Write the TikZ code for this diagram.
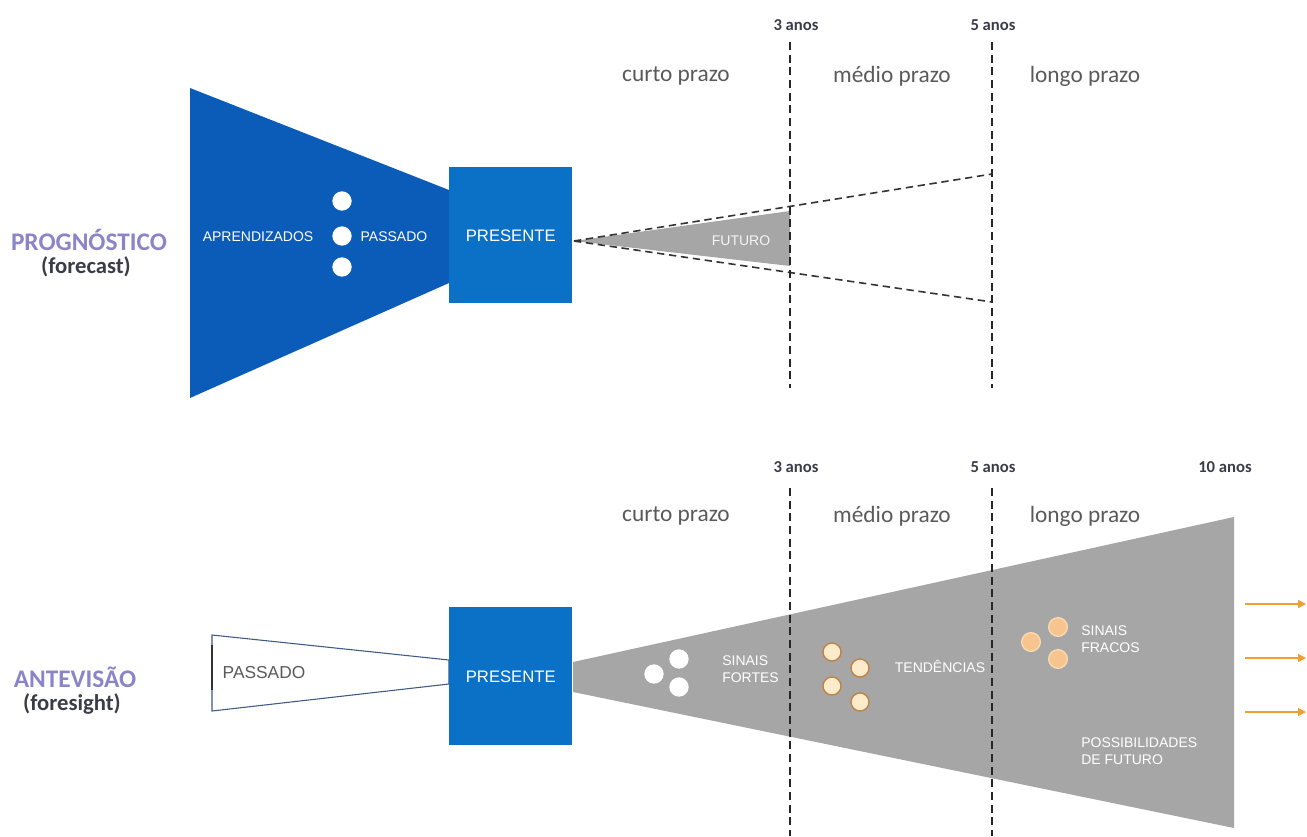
\documentclass[tikz,border=0pt]{standalone}
\usepackage{fontspec}
\setmainfont{Carlito}
\newfontfamily\arialf{Liberation Sans}
\usetikzlibrary{arrows.meta}
\definecolor{dblue}{HTML}{0A5CB8}
\definecolor{bblue}{HTML}{0B71C6}
\definecolor{gfill}{HTML}{A6A6A6}
\definecolor{purp}{HTML}{8C84C8}
\definecolor{dtext}{HTML}{3C3C48}
\definecolor{ltext}{HTML}{5A5A5A}
\definecolor{orng}{HTML}{F0A030}
\definecolor{cream}{HTML}{FDEBCB}
\definecolor{brn}{HTML}{C08040}
\definecolor{peach}{HTML}{F6C48C}
\definecolor{outl}{HTML}{3E5A80}
\begin{document}
\begin{tikzpicture}[x=0.75pt,y=-0.75pt,
  boxlbl/.style={font=\arialf\fontsize{12.5}{14}\selectfont, text=white},
  smlbl/.style={font=\arialf\fontsize{10.5}{12.5}\selectfont, text=white, align=left, inner sep=0pt},
  yearlbl/.style={font=\bfseries\fontsize{12.5}{14}\selectfont, text=dtext},
  termlbl/.style={font=\fontsize{17.5}{20}\selectfont, text=ltext},
  titlelbl/.style={font=\bfseries\fontsize{19}{22}\selectfont, text=purp},
  sublbl/.style={font=\bfseries\fontsize{17}{20}\selectfont, text=dtext},
  presbox/.style={fill=bblue, minimum width=92.25pt, inner sep=0pt},
  wdot/.style={circle, fill=white, minimum size=14.5pt, inner sep=0pt},
  tdot/.style={circle, fill=cream, draw=brn, line width=1pt, minimum size=13.5pt, inner sep=0pt},
  fdot/.style={circle, fill=peach, draw=cream!60!peach, line width=1pt, minimum size=14pt, inner sep=0pt},
  vdash/.style={dash pattern=on 6pt off 3.5pt, line width=1.2pt, black!85},
  cdash/.style={dash pattern=on 5.5pt off 3.5pt, line width=1.2pt, black!80},
  oarrow/.style={draw=orng, line width=1.2pt, -{Triangle[length=6pt,width=6pt]}}
]
\useasboundingbox (0,0) rectangle (1307,836);

% ---------------- TOP: PROGNOSTICO ----------------
\node[titlelbl] (tprog) at (89,240) {PROGNÓSTICO};
\node[sublbl] (tfore) at (86,267) {(forecast)};

\fill[dblue] (190,88) -- (449,190) -- (449,283) -- (190,398) -- cycle;
\node[presbox, minimum height=102pt, anchor=north west] (tpres) at (449,167) {};
\node[boxlbl] (tprestxt) at (tpres.center) {PRESENTE};

\node[wdot] (td1) at (342,201) {};
\node[wdot] (td2) at (342,236) {};
\node[wdot] (td3) at (342,267) {};
\node[smlbl] (tapr) at (258,237) {APRENDIZADOS};
\node[smlbl] (tpas) at (394,237) {PASSADO};

% vertical dashed timelines (top)
\coordinate (t3a) at (790,42);
\coordinate (t3b) at (790,388);
\coordinate (t5a) at (992,42);
\coordinate (t5b) at (992,388);

% future cone (top)
\coordinate (tapex) at (574,241);
\coordinate (tfu1) at (790,211);
\coordinate (tfu2) at (790,266);
\coordinate (tcu) at (992,174);
\coordinate (tcd) at (992,302);
\fill[gfill] (tapex) -- (tfu1) -- (tfu2) -- cycle;
\node[smlbl, text=white!92!gray] (tfut) at (741,241) {FUTURO};
\draw[cdash] (tapex) -- (tcu);
\draw[cdash] (tapex) -- (tcd);
\draw[vdash] (t3a) -- (t3b);
\draw[vdash] (t5a) -- (t5b);

\node[yearlbl] (ty3) at (796,25) {3 anos};
\node[yearlbl] (ty5) at (993,25) {5 anos};
\node[termlbl] (tcurto) at (676,76) {curto prazo};
\node[termlbl] (tmedio) at (892,76) {médio prazo};
\node[termlbl] (tlongo) at (1085,76) {longo prazo};

% ---------------- BOTTOM: ANTEVISAO ----------------
\node[titlelbl] (bant) at (75,677) {ANTEVISÃO};
\node[sublbl] (bfore) at (72,704) {(foresight)};

% past cone
\draw[outl, line width=0.8pt, fill=white] (212,635) -- (449,660) -- (449,684) -- (212,711) -- cycle;
\coordinate (bpl1) at (212,645);
\coordinate (bpl2) at (212,690);
\draw[black!80, line width=1.2pt] (bpl1) -- (bpl2);
\node[font=\arialf\fontsize{13}{15}\selectfont, text=ltext] (bpas) at (264,673) {PASSADO};

% future cone
\fill[gfill] (573,662) -- (1234,517) -- (1234,828) -- (573,692) -- cycle;

\node[presbox, minimum height=103.5pt, anchor=north west] (bpres) at (449,607) {};
\node[boxlbl] (bprestxt) at (bpres.center) {PRESENTE};

% dashed timelines (bottom)
\coordinate (b3a) at (790,488);
\coordinate (b3b) at (790,836);
\coordinate (b5a) at (992,488);
\coordinate (b5b) at (992,836);
\draw[vdash] (b3a) -- (b3b);
\draw[vdash] (b5a) -- (b5b);

\node[yearlbl] (by3) at (796,467) {3 anos};
\node[yearlbl] (by5) at (993,467) {5 anos};
\node[yearlbl] (by10) at (1225,467) {10 anos};
\node[termlbl] (bcurto) at (676,516) {curto prazo};
\node[termlbl] (bmedio) at (892,516) {médio prazo};
\node[termlbl] (blongo) at (1085,516) {longo prazo};

% strong signals
\node[wdot] (bs1) at (654,674) {};
\node[wdot] (bs2) at (679,659) {};
\node[wdot] (bs3) at (679,687) {};
\node[smlbl, anchor=west] (bsig) at (722,669) {SINAIS\\FORTES};

% trends
\node[tdot] (bt1) at (832,652) {};
\node[tdot] (bt2) at (860,668) {};
\node[tdot] (bt3) at (832,686) {};
\node[tdot] (bt4) at (860,702) {};
\node[smlbl] (bten) at (940,666) {TENDÊNCIAS};

% weak signals
\node[fdot] (bw1) at (1031,642) {};
\node[fdot] (bw2) at (1058,627) {};
\node[fdot] (bw3) at (1058,659) {};
\node[smlbl, anchor=west] (bfra) at (1081,639) {SINAIS\\FRACOS};

\node[smlbl, anchor=west] (bposs) at (1081,751) {POSSIBILIDADES\\DE FUTURO};

% arrows
\coordinate (a1s) at (1245,604); \coordinate (a1e) at (1306,604);
\coordinate (a2s) at (1245,658); \coordinate (a2e) at (1306,658);
\coordinate (a3s) at (1245,712); \coordinate (a3e) at (1306,712);
\draw[oarrow] (a1s) -- (a1e);
\draw[oarrow] (a2s) -- (a2e);
\draw[oarrow] (a3s) -- (a3e);
\end{tikzpicture}
\end{document}
